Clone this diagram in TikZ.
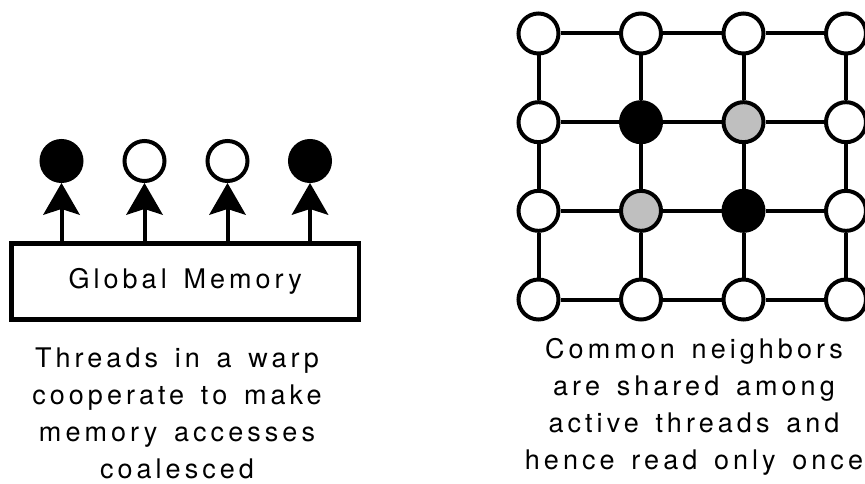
\documentclass[tikz,border=0pt]{standalone}
\usepackage{fontspec}
\newfontfamily\lblfont[LetterSpace=15, WordSpace=1.45]{TeX Gyre Heros}
\usetikzlibrary{arrows.meta}
\definecolor{sharedgray}{gray}{0.75}
\begin{document}
\begin{tikzpicture}[x=1pt,y=-1pt,
  thread/.style={circle, draw, line width=4pt, minimum size=40pt, inner sep=0pt, fill=white},
  active/.style={thread, fill=black},
  common/.style={thread, fill=sharedgray},
  link/.style={line width=4pt},
  fetch/.style={line width=4pt, -{Stealth[length=32pt, width=37pt, inset=6pt, line width=0pt]}},
  membox/.style={draw, line width=4.5pt, minimum width=347.5pt, minimum height=76pt, inner sep=0pt},
  textfont/.style={font=\lblfont\fontsize{27}{37}\selectfont},
  caption/.style={textfont, align=center},
  % cells of the grid that hold active threads or shared neighbours
  cell22/.style={active}, cell33/.style={active},
  cell23/.style={common}, cell32/.style={common},
]
\useasboundingbox (0,0) rectangle (865,484);

% ---- left: coalesced accesses of a warp ----
\node[membox, textfont] (gm) at (185.25,281.5) {Global Memory};
\node[active] (t1) at (61.5,161) {};
\node[thread] (t2) at (144.5,161) {};
\node[thread] (t3) at (227.5,161) {};
\node[active] (t4) at (310,161) {};
\foreach \t in {t1,t2,t3,t4}
  \draw[fetch] (gm.north -| \t) -- (\t.south);

% the base anchor of a multi-line node sits on its last line
\node[caption, anchor=base] (leftcap) at (177,478)
  {Threads in a warp\\cooperate to make\\memory accesses\\coalesced};

% ---- right: 4x4 grid of vertices ----
\foreach \r in {1,...,4}
  \foreach \c in {1,...,4}
    \node[thread, cell\r\c/.try] (g\r\c) at ({538.5+102.5*(\c-1)},{33.5+88.67*(\r-1)}) {};
\foreach \r in {1,...,4}
  \foreach \c/\n in {1/2,2/3,3/4} {
    \draw[link] (g\r\c) -- (g\r\n);
    \draw[link] (g\c\r) -- (g\n\r);
  }

\node[caption, anchor=base] (rightcap) at (694,469)
  {Common neighbors\\are shared among\\active threads and\\hence read only once};
\end{tikzpicture}
\end{document}
